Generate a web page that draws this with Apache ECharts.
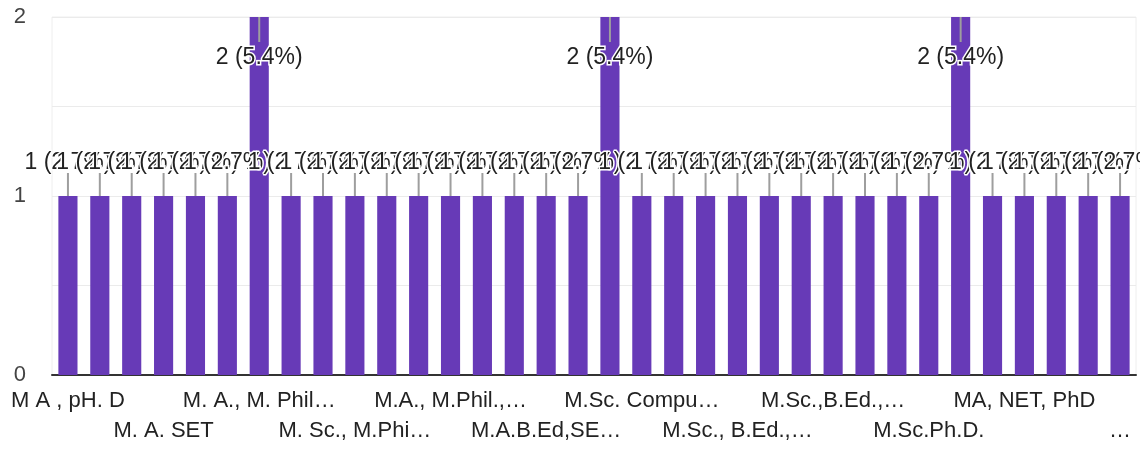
<!DOCTYPE html>
<html>
<head>
<meta charset="utf-8">
<script src="https://cdn.jsdelivr.net/npm/echarts@6/dist/echarts.min.js"></script>
<style>
  html, body { margin: 0; padding: 0; background: #fff; }
  #chart { width: 1140px; height: 450px; }
</style>
</head>
<body>
<div id="chart"></div>
<script>
// categories (only every 3rd one is shown on the axis)
const categories = [
  'M A , pH. D', 'M. A, B.Ed', 'M. A., B.Ed., SET', 'M. A. SET', 'M. A., M. Ed',
  'M. A., NET', 'M. A., M. Phil…', 'M. Com, B.Ed', 'M. Sc, B.Ed', 'M. Sc., M.Phi…',
  'M.A, NET', 'M.A., B.Ed.', 'M.A., M.Phil.,…', 'M.A., Ph.D', 'M.A.,SET',
  'M.A.B.Ed,SE…', 'M.Com., M.Phil', 'M.Phil', 'M.Sc. Compu…', 'M.Sc. NET',
  'M.Sc., B.Ed.', 'M.Sc., B.Ed.,…', 'M.Sc., M.Phil', 'M.Sc., SET', 'M.Sc.,B.Ed.,…',
  'M.Sc.,NET', 'M.Sc.,Ph.D', 'M.Sc.Ph.D.', 'MA', 'MA B.Ed',
  'MA, NET, PhD', 'MA, SET', 'MCA', '…'
];
const counts = [
  1, 1, 1, 1, 1, 1, 2, 1, 1, 1,
  1, 1, 1, 1, 1, 1, 1, 2, 1, 1,
  1, 1, 1, 1, 1, 1, 1, 1, 2, 1,
  1, 1, 1, 1
];
const yTicks = [0, 1, 2];

const total = counts.reduce((a, b) => a + b, 0);
const yMax = yTicks[yTicks.length - 1];
const font = 'Arial, "Liberation Sans", sans-serif';
const purple = '#673ab7';

const chart = echarts.init(document.getElementById('chart'));

const barData = counts.map(v => {
  const atTop = v >= yMax;
  return {
    value: v,
    label: {
      position: atTop ? 'insideTop' : 'top',
      distance: atTop ? 29 : 22
    }
  };
});

// two label rows: row 1 shows categories 0, 6, 12..., row 2 shows 3, 9, 15...
function labelRow(rowStart, margin) {
  return {
    type: 'category',
    data: categories,
    position: 'bottom',
    axisTick: { show: false },
    axisLine: { show: rowStart === 0, lineStyle: { color: '#333', width: 2 } },
    axisLabel: {
      interval: i => i % 6 === rowStart,
      margin: margin,
      fontFamily: font,
      fontSize: 22,
      color: '#222'
    }
  };
}

chart.setOption({
  animation: false,
  grid: {
    left: 52, right: 4, top: 17, bottom: 75,
    show: true, borderColor: '#eeeeee', borderWidth: 1,
    outerBoundsMode: 'none'
  },
  xAxis: [labelRow(0, 15), labelRow(3, 45)],
  yAxis: {
    type: 'value',
    min: 0,
    max: yMax,
    interval: 0.5,
    axisLine: { show: false },
    axisTick: { show: false },
    splitLine: { lineStyle: { color: '#ebebeb', width: 1 } },
    axisLabel: {
      margin: 26,
      fontFamily: font,
      fontSize: 22,
      color: '#444',
      formatter: v => (yTicks.indexOf(v) >= 0 ? String(v) : '')
    }
  },
  series: [
    {
      type: 'bar',
      data: barData,
      barCategoryGap: '40%',
      itemStyle: { color: purple },
      label: {
        show: true,
        fontFamily: font,
        fontSize: 23,
        color: '#222',
        textBorderColor: '#fff',
        textBorderWidth: 3,
        formatter: p => p.value + ' (' + (p.value / total * 100).toFixed(1) + '%)'
      }
    },
    {
      // annotation stems
      type: 'custom',
      data: counts.map((v, i) => [i, v]),
      z: 3,
      renderItem: (params, api) => {
        const v = api.value(1);
        const p = api.coord([api.value(0), v]);
        const y2 = v >= yMax ? p[1] + 25 : p[1] - 23;
        return {
          type: 'line',
          shape: { x1: p[0], y1: p[1], x2: p[0], y2: y2 },
          style: { stroke: '#9e9e9e', lineWidth: 2 }
        };
      }
    }
  ]
});
</script>
</body>
</html>
